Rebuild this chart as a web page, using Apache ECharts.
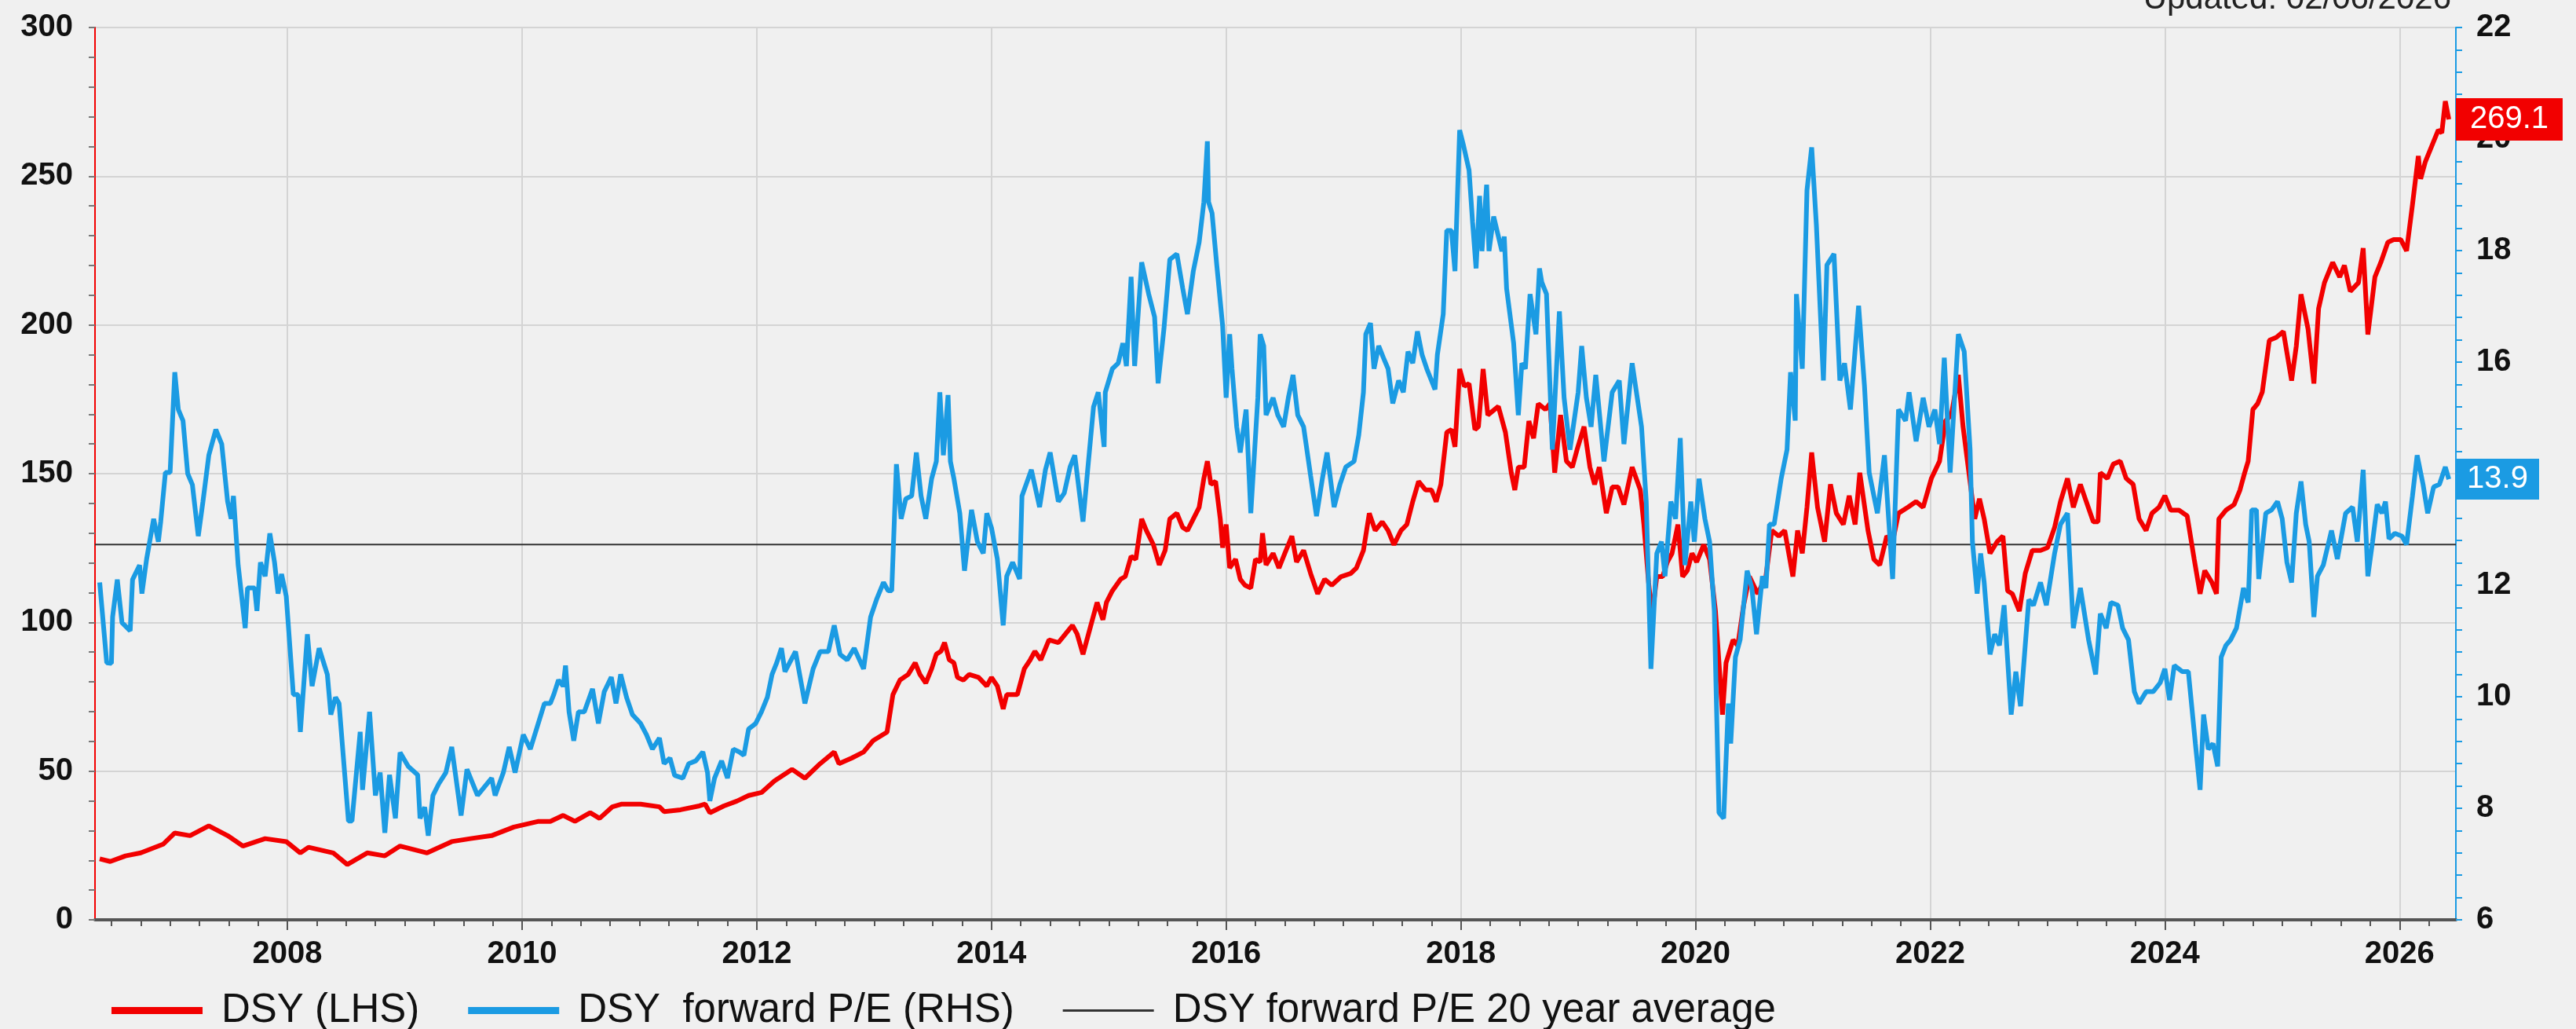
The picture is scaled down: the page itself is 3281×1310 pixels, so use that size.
<!DOCTYPE html>
<html>
<head>
<meta charset="utf-8">
<title>DSY forward P/E</title>
<script src="https://cdn.jsdelivr.net/npm/echarts@6.0.0/dist/echarts.min.js"></script>
<style>
html, body { margin: 0; padding: 0; background: #f0f0f0; }
#chart { width: 3281px; height: 1310px; }
</style>
</head>
<body>
<div id="chart"></div>
<script>
// DSY share price (LHS) - decimal years / values
var pxYears = [
	2006.40, 2006.49, 2006.62, 2006.75, 2006.94, 2007.04, 2007.17, 2007.33, 2007.49, 2007.62,
	2007.81, 2007.99, 2008.11, 2008.18, 2008.39, 2008.51, 2008.68, 2008.83, 2008.96, 2009.19,
	2009.40, 2009.56, 2009.74, 2009.93, 2010.14, 2010.24, 2010.35, 2010.45, 2010.58, 2010.66,
	2010.77, 2010.85, 2011.01, 2011.17, 2011.21, 2011.35, 2011.51, 2011.56, 2011.60, 2011.72,
	2011.83, 2011.93, 2012.04, 2012.15, 2012.30, 2012.41, 2012.54, 2012.66, 2012.70, 2012.81,
	2012.91, 2012.99, 2013.11, 2013.16, 2013.22, 2013.29, 2013.35, 2013.39, 2013.44, 2013.49,
	2013.53, 2013.57, 2013.60, 2013.64, 2013.68, 2013.71, 2013.76, 2013.81, 2013.89, 2013.96,
	2014.00, 2014.05, 2014.10, 2014.13, 2014.22, 2014.28, 2014.33, 2014.37, 2014.42, 2014.49,
	2014.57, 2014.61, 2014.69, 2014.73, 2014.78, 2014.84, 2014.90, 2014.95, 2014.98, 2015.03,
	2015.10, 2015.14, 2015.19, 2015.23, 2015.28, 2015.32, 2015.38, 2015.43, 2015.48, 2015.52,
	2015.58, 2015.63, 2015.67, 2015.72, 2015.77, 2015.81, 2015.84, 2015.87, 2015.91, 2015.95,
	2015.97, 2016.00, 2016.03, 2016.08, 2016.12, 2016.16, 2016.21, 2016.25, 2016.29, 2016.31,
	2016.34, 2016.40, 2016.45, 2016.50, 2016.56, 2016.60, 2016.66, 2016.72, 2016.78, 2016.84,
	2016.90, 2016.98, 2017.06, 2017.11, 2017.17, 2017.22, 2017.27, 2017.33, 2017.38, 2017.43,
	2017.49, 2017.54, 2017.59, 2017.64, 2017.70, 2017.75, 2017.79, 2017.83, 2017.88, 2017.92,
	2017.95, 2017.99, 2018.03, 2018.07, 2018.12, 2018.15, 2018.19, 2018.23, 2018.32, 2018.38,
	2018.43, 2018.46, 2018.49, 2018.54, 2018.58, 2018.62, 2018.66, 2018.72, 2018.76, 2018.80,
	2018.85, 2018.90, 2018.95, 2018.99, 2019.05, 2019.10, 2019.14, 2019.18, 2019.24, 2019.29,
	2019.34, 2019.39, 2019.46, 2019.53, 2019.56, 2019.60, 2019.63, 2019.67, 2019.72, 2019.76,
	2019.80, 2019.85, 2019.89, 2019.93, 2019.97, 2020.01, 2020.07, 2020.12, 2020.17, 2020.23,
	2020.26, 2020.32, 2020.36, 2020.41, 2020.46, 2020.53, 2020.60, 2020.65, 2020.71, 2020.76,
	2020.83, 2020.87, 2020.91, 2020.95, 2020.99, 2021.04, 2021.10, 2021.15, 2021.20, 2021.26,
	2021.31, 2021.36, 2021.40, 2021.47, 2021.52, 2021.57, 2021.63, 2021.68, 2021.73, 2021.81,
	2021.88, 2021.94, 2022.01, 2022.08, 2022.13, 2022.18, 2022.24, 2022.28, 2022.33, 2022.38,
	2022.42, 2022.46, 2022.51, 2022.57, 2022.62, 2022.66, 2022.70, 2022.76, 2022.81, 2022.87,
	2022.94, 2023.00, 2023.06, 2023.11, 2023.17, 2023.22, 2023.28, 2023.33, 2023.39, 2023.43,
	2023.45, 2023.51, 2023.56, 2023.62, 2023.67, 2023.73, 2023.78, 2023.84, 2023.89, 2023.95,
	2024.00, 2024.05, 2024.12, 2024.19, 2024.25, 2024.30, 2024.34, 2024.40, 2024.44, 2024.46,
	2024.52, 2024.59, 2024.64, 2024.68, 2024.71, 2024.75, 2024.79, 2024.83, 2024.89, 2024.95,
	2025.01, 2025.08, 2025.12, 2025.16, 2025.22, 2025.27, 2025.31, 2025.36, 2025.43, 2025.49,
	2025.53, 2025.58, 2025.65, 2025.69, 2025.73, 2025.79, 2025.84, 2025.90, 2025.95, 2026.01,
	2026.06, 2026.11, 2026.16, 2026.18, 2026.22, 2026.28, 2026.33, 2026.36, 2026.39, 2026.42
];
var pxValues = [
	20.5, 19.6, 21.5, 22.5, 25.4, 29.2, 28.3, 31.6, 28.3, 24.8,
	27.3, 26.3, 22.5, 24.4, 22.5, 18.6, 22.5, 21.5, 24.8, 22.5,
	26.3, 27.3, 28.3, 31.2, 33.1, 33.1, 35.1, 33.1, 36.0, 34.1,
	38.0, 38.9, 38.9, 38.0, 36.4, 37.0, 38.3, 38.9, 36.0, 38.3,
	39.9, 41.8, 42.8, 46.7, 50.6, 47.6, 52.5, 56.4, 52.5, 54.4,
	56.4, 60.2, 63.1, 75.7, 80.6, 82.5, 86.4, 82.5, 79.6, 84.4,
	89.3, 90.3, 93.2, 87.4, 86.4, 81.5, 80.6, 82.5, 81.5, 78.6,
	81.5, 78.6, 70.9, 75.7, 75.7, 84.4, 87.4, 90.3, 87.4, 94.1,
	93.2, 95.1, 99.0, 96.1, 89.3, 98.0, 106.7, 100.9, 106.7, 110.6,
	114.5, 115.4, 122.2, 121.2, 134.8, 130.9, 126.1, 119.3, 124.2, 134.8,
	136.7, 131.9, 130.9, 134.8, 138.7, 148.4, 154.2, 146.4, 147.4, 134.8,
	125.1, 132.9, 118.3, 121.2, 114.5, 112.5, 111.6, 121.2, 120.3, 130.0,
	119.3, 123.2, 118.3, 123.2, 129.0, 120.3, 124.2, 116.4, 109.6, 114.5,
	112.5, 115.4, 116.4, 118.3, 124.2, 136.7, 130.9, 133.8, 130.9, 126.1,
	130.9, 132.9, 140.6, 147.4, 144.5, 144.5, 140.6, 146.4, 163.9, 164.8,
	159.0, 185.2, 179.4, 180.3, 164.8, 165.8, 185.2, 169.7, 172.6, 163.9,
	150.3, 144.5, 152.2, 152.2, 167.7, 161.9, 173.5, 171.6, 173.5, 150.3,
	169.7, 154.2, 152.2, 158.0, 165.8, 152.2, 146.4, 152.2, 136.7, 145.5,
	145.5, 139.6, 152.2, 144.5, 132.9, 113.5, 101.9, 115.4, 115.4, 120.3,
	123.2, 132.9, 115.4, 117.4, 123.2, 120.3, 126.1, 121.2, 103.8, 69.0,
	86.4, 94.1, 92.2, 105.8, 115.4, 109.6, 115.4, 130.9, 129.0, 130.9,
	115.4, 130.9, 123.2, 138.7, 157.1, 138.7, 127.1, 146.4, 136.7, 132.9,
	142.6, 132.9, 150.3, 130.9, 121.2, 119.3, 129.0, 127.1, 136.7, 138.7,
	140.6, 138.7, 148.4, 154.2, 167.7, 169.7, 183.2, 165.8, 150.3, 134.8,
	141.6, 134.8, 123.2, 127.1, 129.0, 110.6, 109.6, 103.8, 116.4, 124.2,
	124.2, 125.1, 131.9, 140.6, 148.4, 138.7, 146.4, 140.6, 133.8, 133.8,
	150.3, 148.4, 153.2, 154.2, 148.4, 146.4, 134.8, 130.9, 136.7, 138.7,
	142.6, 137.7, 137.7, 135.8, 121.2, 109.6, 117.4, 113.5, 109.6, 134.8,
	137.7, 139.6, 144.5, 150.3, 154.2, 171.6, 173.5, 177.4, 194.8, 195.8,
	197.8, 181.3, 192.9, 210.3, 198.7, 180.3, 205.5, 214.2, 221.0, 216.1,
	220.0, 211.3, 214.2, 225.8, 196.8, 216.1, 221.0, 227.8, 228.7, 228.7,
	224.9, 240.4, 256.8, 249.1, 254.9, 260.7, 265.5, 264.6, 275.2, 269.1
];

// DSY forward P/E (RHS)
var peYears = [
	2006.40, 2006.46, 2006.50, 2006.51, 2006.55, 2006.59, 2006.66, 2006.68, 2006.74, 2006.76,
	2006.80, 2006.86, 2006.90, 2006.92, 2006.96, 2007.00, 2007.04, 2007.07, 2007.11, 2007.15,
	2007.19, 2007.24, 2007.28, 2007.33, 2007.39, 2007.44, 2007.49, 2007.52, 2007.54, 2007.58,
	2007.64, 2007.66, 2007.72, 2007.74, 2007.77, 2007.81, 2007.85, 2007.89, 2007.92, 2007.95,
	2007.99, 2008.05, 2008.09, 2008.11, 2008.17, 2008.21, 2008.27, 2008.34, 2008.37, 2008.41,
	2008.44, 2008.52, 2008.55, 2008.62, 2008.64, 2008.70, 2008.75, 2008.79, 2008.83, 2008.87,
	2008.92, 2008.96, 2009.03, 2009.11, 2009.13, 2009.17, 2009.20, 2009.24, 2009.29, 2009.35,
	2009.40, 2009.48, 2009.53, 2009.62, 2009.74, 2009.77, 2009.84, 2009.89, 2009.94, 2010.01,
	2010.07, 2010.19, 2010.24, 2010.27, 2010.31, 2010.35, 2010.37, 2010.40, 2010.44, 2010.48,
	2010.53, 2010.60, 2010.65, 2010.70, 2010.76, 2010.80, 2010.84, 2010.89, 2010.94, 2011.01,
	2011.06, 2011.11, 2011.17, 2011.21, 2011.26, 2011.30, 2011.37, 2011.42, 2011.48, 2011.54,
	2011.58, 2011.60, 2011.64, 2011.70, 2011.75, 2011.80, 2011.85, 2011.89, 2011.93, 2011.99,
	2012.04, 2012.09, 2012.13, 2012.17, 2012.21, 2012.24, 2012.28, 2012.33, 2012.41, 2012.48,
	2012.54, 2012.61, 2012.66, 2012.71, 2012.77, 2012.83, 2012.91, 2012.97, 2013.02, 2013.08,
	2013.12, 2013.15, 2013.19, 2013.23, 2013.27, 2013.32, 2013.36, 2013.40, 2013.44, 2013.49,
	2013.53, 2013.56, 2013.59, 2013.63, 2013.65, 2013.68, 2013.73, 2013.77, 2013.83, 2013.88,
	2013.93, 2013.96, 2014.00, 2014.05, 2014.10, 2014.13, 2014.18, 2014.24, 2014.26, 2014.34,
	2014.41, 2014.46, 2014.50, 2014.57, 2014.62, 2014.67, 2014.71, 2014.78, 2014.82, 2014.87,
	2014.91, 2014.96, 2014.97, 2015.03, 2015.08, 2015.12, 2015.15, 2015.19, 2015.22, 2015.28,
	2015.34, 2015.39, 2015.42, 2015.47, 2015.52, 2015.58, 2015.63, 2015.67, 2015.72, 2015.77,
	2015.81, 2015.84, 2015.85, 2015.88, 2015.92, 2015.97, 2016.00, 2016.03, 2016.05, 2016.09,
	2016.12, 2016.17, 2016.21, 2016.27, 2016.29, 2016.32, 2016.34, 2016.40, 2016.44, 2016.49,
	2016.53, 2016.57, 2016.61, 2016.66, 2016.72, 2016.77, 2016.82, 2016.86, 2016.92, 2016.97,
	2017.02, 2017.09, 2017.13, 2017.17, 2017.19, 2017.23, 2017.26, 2017.30, 2017.34, 2017.38,
	2017.42, 2017.47, 2017.51, 2017.55, 2017.59, 2017.63, 2017.67, 2017.71, 2017.78, 2017.80,
	2017.85, 2017.88, 2017.92, 2017.95, 2017.99, 2018.02, 2018.07, 2018.10, 2018.13, 2018.16,
	2018.18, 2018.22, 2018.24, 2018.28, 2018.35, 2018.37, 2018.39, 2018.45, 2018.49, 2018.52,
	2018.55, 2018.59, 2018.64, 2018.67, 2018.69, 2018.73, 2018.78, 2018.84, 2018.88, 2018.93,
	2019.00, 2019.03, 2019.07, 2019.11, 2019.15, 2019.22, 2019.29, 2019.35, 2019.39, 2019.46,
	2019.54, 2019.58, 2019.62, 2019.67, 2019.71, 2019.74, 2019.79, 2019.83, 2019.87, 2019.91,
	2019.96, 2019.99, 2020.03, 2020.08, 2020.12, 2020.16, 2020.20, 2020.24, 2020.28, 2020.30,
	2020.34, 2020.38, 2020.44, 2020.48, 2020.52, 2020.57, 2020.60, 2020.63, 2020.67, 2020.73,
	2020.78, 2020.81, 2020.85, 2020.86, 2020.91, 2020.95, 2020.99, 2021.03, 2021.09, 2021.12,
	2021.18, 2021.23, 2021.27, 2021.32, 2021.39, 2021.44, 2021.48, 2021.55, 2021.61, 2021.68,
	2021.73, 2021.79, 2021.82, 2021.88, 2021.94, 2021.99, 2022.04, 2022.08, 2022.12, 2022.17,
	2022.24, 2022.29, 2022.34, 2022.36, 2022.40, 2022.43, 2022.46, 2022.51, 2022.55, 2022.59,
	2022.63, 2022.69, 2022.73, 2022.77, 2022.84, 2022.88, 2022.94, 2022.99, 2023.06, 2023.11,
	2023.17, 2023.22, 2023.28, 2023.35, 2023.41, 2023.45, 2023.50, 2023.54, 2023.60, 2023.64,
	2023.69, 2023.74, 2023.78, 2023.84, 2023.90, 2023.96, 2024.00, 2024.04, 2024.08, 2024.15,
	2024.20, 2024.26, 2024.30, 2024.33, 2024.37, 2024.41, 2024.45, 2024.48, 2024.52, 2024.56,
	2024.61, 2024.67, 2024.71, 2024.74, 2024.78, 2024.80, 2024.86, 2024.91, 2024.96, 2025.00,
	2025.04, 2025.08, 2025.12, 2025.16, 2025.20, 2025.23, 2025.27, 2025.30, 2025.35, 2025.42,
	2025.47, 2025.54, 2025.60, 2025.64, 2025.69, 2025.73, 2025.77, 2025.81, 2025.85, 2025.88,
	2025.91, 2025.96, 2026.02, 2026.06, 2026.11, 2026.15, 2026.20, 2026.24, 2026.29, 2026.34,
	2026.39, 2026.42
];
var peValues = [
	12.05, 10.61, 10.60, 11.43, 12.10, 11.33, 11.18, 12.10, 12.36, 11.85,
	12.47, 13.19, 12.78, 13.14, 14.02, 14.02, 15.82, 15.15, 14.95, 14.00,
	13.80, 12.88, 13.50, 14.33, 14.79, 14.53, 13.50, 13.19, 13.60, 12.36,
	11.23, 11.95, 11.95, 11.54, 12.41, 12.16, 12.93, 12.41, 11.85, 12.20,
	11.80, 10.04, 10.04, 9.37, 11.12, 10.19, 10.87, 10.40, 9.68, 9.99,
	9.88, 7.77, 7.77, 9.37, 8.33, 9.73, 8.23, 8.64, 7.56, 8.60,
	7.82, 9.00, 8.75, 8.60, 7.82, 8.02, 7.51, 8.23, 8.44, 8.64,
	9.10, 7.87, 8.70, 8.23, 8.54, 8.23, 8.64, 9.10, 8.64, 9.32,
	9.06, 9.88, 9.88, 10.04, 10.30, 10.19, 10.56, 9.73, 9.21, 9.73,
	9.73, 10.14, 9.52, 10.09, 10.35, 9.88, 10.40, 9.99, 9.68, 9.52,
	9.32, 9.06, 9.26, 8.80, 8.90, 8.59, 8.54, 8.80, 8.85, 9.01,
	8.64, 8.13, 8.54, 8.85, 8.54, 9.06, 9.01, 8.95, 9.42, 9.52,
	9.73, 9.99, 10.40, 10.61, 10.87, 10.45, 10.61, 10.81, 9.88, 10.50,
	10.81, 10.81, 11.28, 10.76, 10.66, 10.87, 10.50, 11.43, 11.74, 12.05,
	11.90, 11.90, 14.17, 13.19, 13.55, 13.60, 14.38, 13.60, 13.19, 13.91,
	14.22, 15.46, 14.33, 15.41, 14.22, 13.91, 13.29, 12.26, 13.35, 12.78,
	12.57, 13.29, 13.03, 12.47, 11.28, 12.16, 12.41, 12.11, 13.60, 14.07,
	13.40, 14.07, 14.38, 13.50, 13.65, 14.12, 14.33, 13.14, 14.07, 15.20,
	15.46, 14.48, 15.46, 15.88, 15.98, 16.34, 15.93, 17.53, 15.93, 17.79,
	17.22, 16.81, 15.62, 16.60, 17.84, 17.94, 17.32, 16.86, 17.63, 18.15,
	18.87, 19.96, 18.87, 18.67, 17.74, 16.65, 15.36, 16.50, 15.88, 14.84,
	14.38, 15.15, 13.29, 15.36, 16.50, 16.29, 15.05, 15.36, 15.05, 14.84,
	15.36, 15.77, 15.05, 14.84, 13.96, 13.24, 13.91, 14.38, 13.40, 13.81,
	14.12, 14.22, 14.69, 15.46, 16.50, 16.70, 15.88, 16.29, 16.08, 15.88,
	15.26, 15.67, 15.46, 16.19, 15.98, 16.55, 16.13, 15.88, 15.51, 16.13,
	16.86, 18.36, 18.36, 17.63, 20.16, 19.91, 19.44, 18.51, 17.68, 18.98,
	17.99, 19.18, 17.99, 18.61, 17.99, 18.25, 17.32, 16.34, 15.05, 15.98,
	15.88, 17.22, 16.50, 17.68, 17.43, 17.22, 14.43, 16.91, 15.36, 14.43,
	15.46, 16.29, 15.36, 14.84, 15.77, 14.22, 15.46, 15.67, 14.53, 15.98,
	14.84, 13.50, 10.50, 12.57, 12.78, 12.16, 13.50, 13.19, 14.64, 12.36,
	13.50, 12.78, 13.91, 13.19, 12.78, 11.54, 7.92, 7.82, 9.88, 9.16,
	10.71, 11.02, 12.26, 11.95, 11.12, 12.16, 11.95, 13.09, 13.09, 13.91,
	14.43, 15.82, 14.95, 17.22, 15.88, 19.08, 19.85, 18.46, 15.67, 17.74,
	17.94, 15.67, 15.98, 15.15, 17.01, 15.57, 14.02, 13.29, 14.33, 12.11,
	15.15, 14.95, 15.46, 14.58, 15.36, 14.84, 15.15, 14.53, 16.08, 14.02,
	16.50, 16.19, 14.43, 12.78, 11.85, 12.57, 12.05, 10.76, 11.12, 10.92,
	11.64, 9.68, 10.45, 9.83, 11.74, 11.64, 12.05, 11.64, 12.57, 13.09,
	13.29, 11.23, 11.95, 11.02, 10.40, 11.49, 11.23, 11.69, 11.64, 11.23,
	11.02, 10.09, 9.88, 10.09, 10.09, 10.25, 10.50, 9.94, 10.56, 10.45,
	10.45, 9.16, 8.33, 9.68, 9.06, 9.16, 8.75, 10.71, 10.92, 11.02,
	11.23, 11.95, 11.69, 13.35, 13.35, 12.11, 13.29, 13.35, 13.50, 13.19,
	12.41, 12.05, 13.29, 13.86, 13.09, 12.78, 11.43, 12.16, 12.36, 12.98,
	12.47, 13.29, 13.40, 12.78, 14.07, 12.16, 12.78, 13.45, 13.29, 13.50,
	12.83, 12.93, 12.88, 12.73, 13.60, 14.33, 13.81, 13.29, 13.76, 13.81,
	14.12, 13.90
];

var peAverage = 12.73;                 // DSY forward P/E 20 year average
var yearLabels = [2008, 2010, 2012, 2014, 2016, 2018, 2020, 2022, 2024, 2026];
var xMin = 2006.36, xMax = 2026.48;

var red = '#F20000';
var blue = '#1B9BE3';
var font = '"Liberation Sans", Arial, sans-serif';

var quarterTicks = [];
for (var q = 2006 * 4 + 2; q <= 2026 * 4 + 1; q++) {
	quarterTicks.push(q / 4);
}

function pairs(xs, ys) {
	return xs.map(function (x, i) { return [x, ys[i]]; });
}

var chart = echarts.init(document.getElementById('chart'));

var option = {
	backgroundColor: '#f0f0f0',
	animation: false,
	textStyle: { fontFamily: font },
	grid: {
		left: 121,
		right: 153,
		top: 35,
		bottom: 139
	},
	graphic: [{
		type: 'text',
		right: 3281 - 3122,
		top: -22,
		style: {
			text: 'Updated: 02/06/2026',
			font: '42px ' + font,
			fill: '#222'
		}
	}],
	legend: {
		left: 137,
		top: 1256,
		itemWidth: 116,
		itemHeight: 10,
		itemGap: 62,
		textStyle: {
			fontSize: 51,
			color: '#111',
			fontFamily: font,
			padding: [0, 0, 0, 19]
		},
		data: [
			{ name: 'DSY (LHS)', icon: 'path://M0,0H116V9H0Z' },
			{ name: 'DSY  forward P/E (RHS)', icon: 'path://M0,0H116V9H0Z' },
			{ name: 'DSY forward P/E 20 year average', icon: 'path://M0,0H116V3H0Z' }
		]
	},
	xAxis: [{
		// quarterly ticks along the base line
		type: 'value',
		min: xMin,
		max: xMax,
		position: 'bottom',
		axisLine: { show: true, onZero: false, lineStyle: { color: '#555', width: 4 } },
		axisTick: { show: true, customValues: quarterTicks, length: 8, lineStyle: { color: '#555', width: 2 } },
		axisLabel: { show: false },
		splitLine: { show: false }
	}, {
		// year labels and vertical grid
		type: 'value',
		min: xMin,
		max: xMax,
		position: 'bottom',
		axisLine: { show: false },
		axisTick: { show: true, customValues: yearLabels, length: 13, lineStyle: { color: '#555', width: 2 } },
		axisLabel: {
			customValues: yearLabels,
			margin: 24,
			fontSize: 40,
			fontWeight: 'bold',
			color: '#111',
			fontFamily: font,
			formatter: function (v) { return String(Math.round(v)); }
		},
		splitLine: { show: true, lineStyle: { color: '#d4d4d4', width: 2 } }
	}],
	yAxis: [{
		type: 'value',
		min: 0,
		max: 300,
		interval: 50,
		position: 'left',
		axisLine: { show: true, lineStyle: { color: red, width: 2 } },
		axisTick: { show: true, length: 8, lineStyle: { color: '#777', width: 2 } },
		minorTick: { show: true, splitNumber: 5, length: 8, lineStyle: { color: '#777', width: 2 } },
		axisLabel: { margin: 28, fontSize: 40, fontWeight: 'bold', color: '#111', fontFamily: font },
		splitLine: { show: true, lineStyle: { color: '#d4d4d4', width: 2 } }
	}, {
		type: 'value',
		min: 6,
		max: 22,
		interval: 2,
		position: 'right',
		axisLine: { show: true, lineStyle: { color: blue, width: 2 } },
		axisTick: { show: true, length: 8, lineStyle: { color: blue, width: 2 } },
		minorTick: { show: true, splitNumber: 5, length: 8, lineStyle: { color: blue, width: 2 } },
		axisLabel: { margin: 26, fontSize: 40, fontWeight: 'bold', color: '#111', fontFamily: font },
		splitLine: { show: false }
	}],
	series: [{
		name: 'DSY forward P/E 20 year average',
		type: 'line',
		xAxisIndex: 0,
		yAxisIndex: 1,
		symbol: 'none',
		color: '#333',
		lineStyle: { color: '#333', width: 2 },
		z: 1,
		data: [[xMin, peAverage], [xMax, peAverage]]
	}, {
		name: 'DSY (LHS)',
		type: 'line',
		xAxisIndex: 0,
		yAxisIndex: 0,
		symbol: 'none',
		color: red,
		lineStyle: { color: red, width: 6 },
		z: 3,
		data: pairs(pxYears, pxValues),
		markPoint: {
			symbol: 'rect',
			symbolSize: [136, 54],
			symbolOffset: [68, 0],
			itemStyle: { color: red },
			label: {
				show: true,
				color: '#fff',
				fontSize: 40,
				fontFamily: font,
				formatter: function (p) { return p.value.toFixed(1); }
			},
			data: [{ coord: [xMax, pxValues[pxValues.length - 1]], value: pxValues[pxValues.length - 1] }]
		}
	}, {
		name: 'DSY  forward P/E (RHS)',
		type: 'line',
		xAxisIndex: 0,
		yAxisIndex: 1,
		symbol: 'none',
		color: blue,
		lineStyle: { color: blue, width: 6 },
		z: 4,
		data: pairs(peYears, peValues),
		markPoint: {
			symbol: 'rect',
			symbolSize: [106, 52],
			symbolOffset: [53, 0],
			itemStyle: { color: blue },
			label: {
				show: true,
				color: '#fff',
				fontSize: 40,
				fontFamily: font,
				formatter: function (p) { return p.value.toFixed(1); }
			},
			data: [{ coord: [xMax, peValues[peValues.length - 1]], value: peValues[peValues.length - 1] }]
		}
	}]
};

chart.setOption(option);

window.onresize = function () {
	chart.resize();
};
</script>
</body>
</html>
